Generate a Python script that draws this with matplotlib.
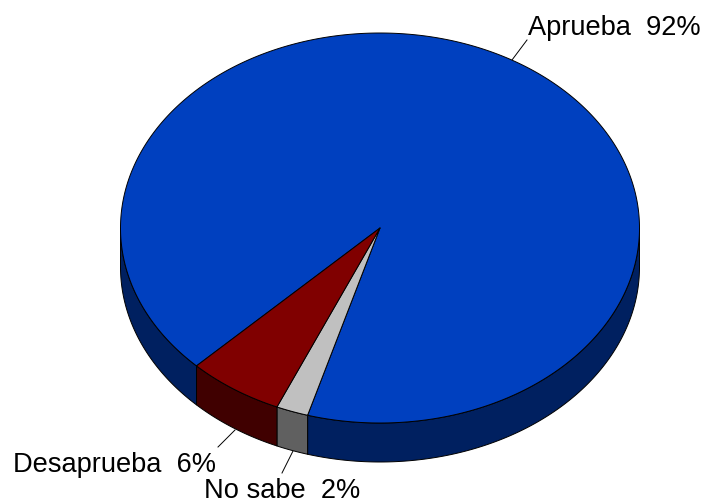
import numpy as np
import matplotlib
matplotlib.use("Agg")
import matplotlib.pyplot as plt

labels = ["Aprueba  92%", "No sabe  2%", "Desaprueba  6%"]
values = [92, 2, 6]
top_colors = ["#0040BF", "#C0C0C0", "#800000"]
side_colors = ["#002060", "#606060", "#400000"]

CX, CY, RX, RY, DEPTH = 380, 228, 259.5, 195, 39
START_DEG = 45.0  # angle from straight down, towards the left, where the first slice starts
label_pos = [(528, 27.5, "left"), (360, 490.5, "right"), (216, 464.5, "right")]
leaders = [((512, 60), (527, 40)), ((293, 451), (282, 473)), ((235, 430), (218, 447))]

plt.rcParams["font.family"] = ["Liberation Sans", "DejaVu Sans"]
fig = plt.figure(figsize=(7.07, 5.03), dpi=100)
ax = fig.add_axes([0, 0, 1, 1])
ax.set_xlim(0, 707)
ax.set_ylim(503, 0)
ax.axis("off")


def pt(theta):
    return CX - RX * np.sin(theta), CY + RY * np.cos(theta)


total = sum(values)
edges = np.radians(START_DEG) + 2 * np.pi * np.r_[0, np.cumsum(values)] / total
spans = list(zip(edges[:-1], edges[1:]))

# Side walls: only where the rim faces the viewer (theta within 90 deg of straight down)
front_windows = [(-np.pi / 2 + 2 * np.pi * k, np.pi / 2 + 2 * np.pi * k) for k in range(2)]
for (a0, a1), sc in zip(spans, side_colors):
    for w0, w1 in front_windows:
        lo, hi = max(a0, w0), min(a1, w1)
        if hi <= lo:
            continue
        t = np.linspace(lo, hi, 400)
        x, y = pt(t)
        ax.fill(np.r_[x, x[::-1]], np.r_[y, y[::-1] + DEPTH], fc=sc, ec="black",
                lw=0.7, joinstyle="round", zorder=2)

# Top faces
for (a0, a1), tc in zip(spans, top_colors):
    t = np.linspace(a0, a1, 800)
    x, y = pt(t)
    ax.fill(np.r_[CX, x], np.r_[CY, y], fc=tc, ec="black", lw=0.7, joinstyle="round", zorder=3)

for p, q in leaders:
    ax.plot([p[0], q[0]], [p[1], q[1]], color="black", lw=0.7, zorder=1)
for lab, (x, y, ha) in zip(labels, label_pos):
    ax.text(x, y, lab, ha=ha, va="center", fontsize=19.6, color="black")

fig.savefig("out.png", dpi=100)
